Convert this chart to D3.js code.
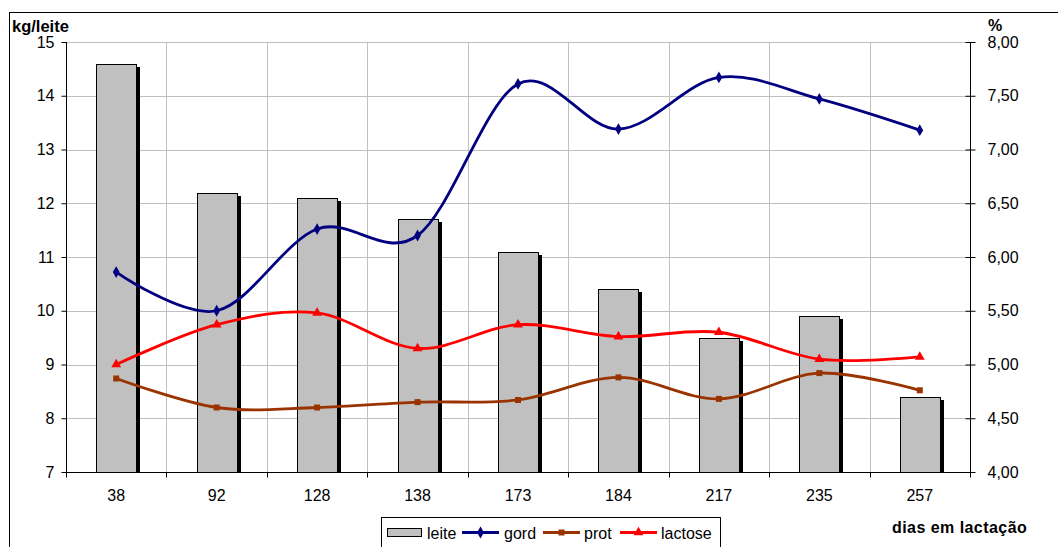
<!DOCTYPE html>
<html>
<head>
<meta charset="utf-8">
<script src="https://cdn.jsdelivr.net/npm/d3@7"></script>
<style>
  html, body { margin: 0; padding: 0; background: #fff; }
  svg { display: block; font-family: "Liberation Sans", Arial, sans-serif; }
</style>
</head>
<body>
<svg id="chart" width="1058" height="547"></svg>
<script>
// Days in lactation (categories)
const days = ["38", "92", "128", "138", "173", "184", "217", "235", "257"];
// Milk yield, kg/day (bars, left axis)
const leite = [14.6, 12.2, 12.1, 11.7, 11.1, 10.4, 9.5, 9.9, 8.4];
// Fat, protein and lactose, % (lines, right axis)
const gord = [5.86, 5.50, 6.26, 6.20, 7.61, 7.19, 7.67, 7.47, 7.18];
const prot = [4.87, 4.60, 4.60, 4.65, 4.67, 4.88, 4.68, 4.92, 4.76];
const lactose = [5.00, 5.37, 5.48, 5.15, 5.37, 5.26, 5.30, 5.05, 5.07];
// Axis ticks
const leftTicks = [7, 8, 9, 10, 11, 12, 13, 14, 15];
const rightTicks = [4, 4.5, 5, 5.5, 6, 6.5, 7, 7.5, 8];

const svg = d3.select("#chart");
const L = 66, R = 970, T = 42, B = 472;
const FS = 16;

const x = d3.scaleBand().domain(days).range([L, R]);
const yL = d3.scaleLinear().domain([7, 15]).range([B, T]);
const yR = d3.scaleLinear().domain([4, 8]).range([B, T]);
const fmtR = v => d3.format(".2f")(v).replace(".", ",");

// outer frame
svg.append("rect").attr("x", 9.5).attr("y", 12.5).attr("width", 1060).attr("height", 560)
  .attr("fill", "none").attr("stroke", "#000").attr("stroke-width", 1);

// gridlines
const grid = svg.append("g").attr("stroke", "#c0c0c0").attr("stroke-width", 1);
grid.selectAll("line.h").data(leftTicks.slice(1)).join("line")
  .attr("x1", L).attr("x2", R)
  .attr("y1", d => Math.round(yL(d)) + 0.5).attr("y2", d => Math.round(yL(d)) + 0.5);
grid.selectAll("line.v").data(days.slice(1)).join("line")
  .attr("x1", d => Math.round(x(d)) + 0.5).attr("x2", d => Math.round(x(d)) + 0.5)
  .attr("y1", T).attr("y2", B);

// bars with drop shadow
const bw = 40;
const bars = svg.append("g");
bars.selectAll("rect.sh").data(leite).join("rect")
  .attr("x", (d, i) => Math.round(x(days[i]) + x.bandwidth() / 2 - bw / 2) + 4)
  .attr("y", d => Math.round(yL(d)) + 3)
  .attr("width", bw).attr("height", d => B - Math.round(yL(d)) - 3)
  .attr("fill", "#000");
bars.selectAll("rect.bar").data(leite).join("rect")
  .attr("x", (d, i) => Math.round(x(days[i]) + x.bandwidth() / 2 - bw / 2) + 0.5)
  .attr("y", d => Math.round(yL(d)) + 0.5)
  .attr("width", bw).attr("height", d => B - Math.round(yL(d)))
  .attr("fill", "#c0c0c0").attr("stroke", "#000").attr("stroke-width", 1);

// axes
const axisFont = g => g.selectAll("text").attr("font-size", FS).attr("font-family", "Liberation Sans, Arial, sans-serif").attr("fill", "#000");
const gl = svg.append("g").attr("transform", `translate(${L + 0.5},0)`)
  .call(d3.axisLeft(yL).tickValues(leftTicks).tickSize(5).tickPadding(7).tickFormat(d3.format("d")));
gl.call(axisFont); gl.selectAll("path,line").attr("stroke", "#000");
gl.select(".domain").attr("d", `M0,${T}V${B}`);

const gr = svg.append("g").attr("transform", `translate(${R + 0.5},0)`)
  .call(d3.axisRight(yR).tickValues(rightTicks).tickSize(5).tickPadding(12).tickFormat(fmtR));
gr.call(axisFont); gr.selectAll("path,line").attr("stroke", "#000");
gr.selectAll(".tick line").attr("x1", -5);
gr.select(".domain").attr("d", `M0,${T}V${B}`);

const gb = svg.append("g").attr("transform", `translate(0,${B + 0.5})`)
  .call(d3.axisBottom(x).tickSize(0).tickPadding(17));
gb.call(axisFont);
gb.select(".domain").attr("d", `M${L},0H${R}`).attr("stroke", "#000");
gb.selectAll("line.bt").data(days.concat(["end"])).join("line").attr("class", "bt")
  .attr("x1", (d, i) => Math.round(L + i * x.bandwidth()) + 0.5)
  .attr("x2", (d, i) => Math.round(L + i * x.bandwidth()) + 0.5)
  .attr("y1", 0).attr("y2", 5).attr("stroke", "#000");

// smoothed lines with markers
const cx = i => x(days[i]) + x.bandwidth() / 2;
const lineGen = d3.line().x((d, i) => cx(i)).y(d => yR(d)).curve(d3.curveCatmullRom.alpha(0));
const series = [
  { data: gord, color: "#000080", shape: "diamond" },
  { data: prot, color: "#993300", shape: "square" },
  { data: lactose, color: "#ff0000", shape: "triangle" }
];
const markerPath = {
  diamond: d3.symbol(d3.symbolDiamond, 40),
  square: d3.symbol(d3.symbolSquare, 36),
  triangle: d3.symbol(d3.symbolTriangle, 42)
};
series.forEach(s => {
  svg.append("path").datum(s.data).attr("d", lineGen)
    .attr("fill", "none").attr("stroke", s.color).attr("stroke-width", 2.8);
  svg.append("g").selectAll("path").data(s.data).join("path")
    .attr("transform", (d, i) => `translate(${cx(i)},${yR(d)})`)
    .attr("d", markerPath[s.shape]()).attr("fill", s.color);
});

// axis titles
svg.append("text").attr("x", 12).attr("y", 32).attr("font-size", 16.5).attr("font-weight", "bold").text("kg/leite");
svg.append("text").attr("x", 988).attr("y", 31).attr("font-size", 16).attr("font-weight", "bold").text("%");
svg.append("text").attr("x", 892).attr("y", 533).attr("font-size", 16).attr("font-weight", "bold")
  .attr("letter-spacing", 0.45).text("dias em lactação");

// legend
const lg = svg.append("g");
lg.append("rect").attr("x", 381.5).attr("y", 517.5).attr("width", 339).attr("height", 40)
  .attr("fill", "#fff").attr("stroke", "#000");
lg.append("rect").attr("x", 387.5).attr("y", 528.5).attr("width", 34).attr("height", 8)
  .attr("fill", "#c0c0c0").attr("stroke", "#000");
lg.append("text").attr("x", 427).attr("y", 538.5).attr("font-size", FS).text("leite");
const legItems = [
  { s: series[0], x0: 462, tx: 504, label: "gord" },
  { s: series[1], x0: 543, tx: 584, label: "prot" },
  { s: series[2], x0: 620, tx: 661, label: "lactose" }
];
legItems.forEach(it => {
  lg.append("line").attr("x1", it.x0).attr("x2", it.x0 + 37).attr("y1", 532.5).attr("y2", 532.5)
    .attr("stroke", it.s.color).attr("stroke-width", 2.8);
  lg.append("path").attr("transform", `translate(${it.x0 + 18.5},532.5)`)
    .attr("d", markerPath[it.s.shape]()).attr("fill", it.s.color);
  lg.append("text").attr("x", it.tx).attr("y", 538.5).attr("font-size", FS).text(it.label);
});
</script>
</body>
</html>
